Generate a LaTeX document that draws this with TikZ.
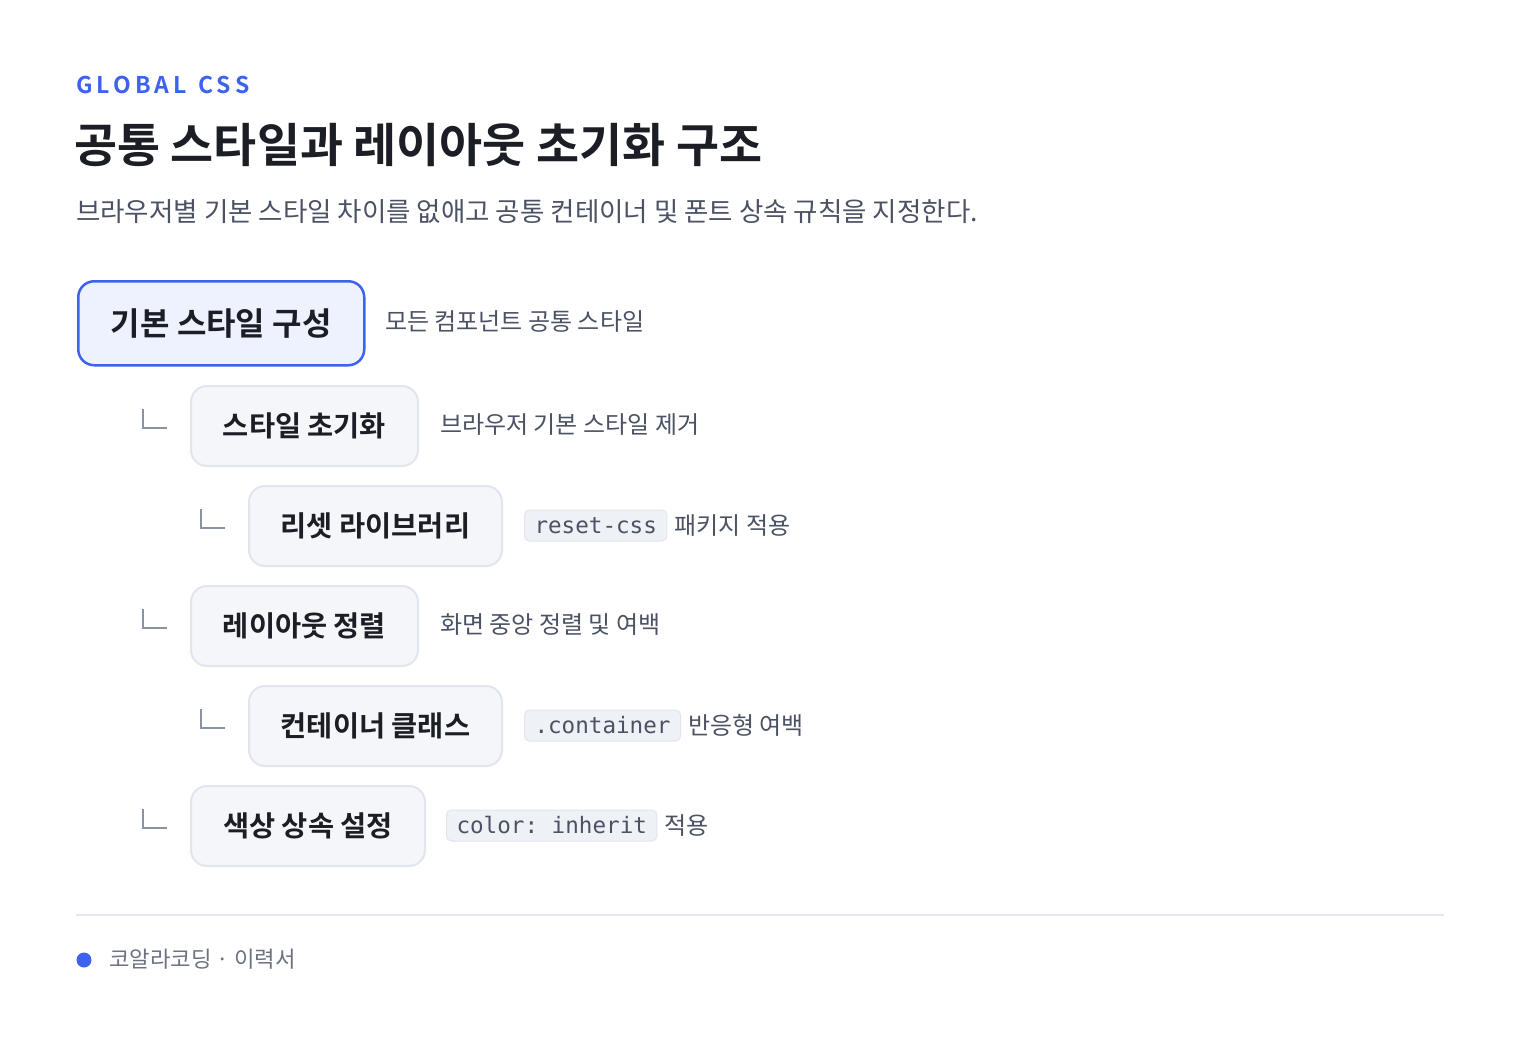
\documentclass[tikz,border=0pt]{standalone}
\usepackage{fontspec}
\setmainfont{Noto Sans CJK KR}[BoldFont={Noto Sans CJK KR Bold}]
\newfontfamily\krmed{Noto Sans CJK KR Medium}
\setmonofont{DejaVu Sans Mono}
\definecolor{accent}{HTML}{3D63EE}
\definecolor{ink}{HTML}{1B1E25}
\definecolor{sub}{HTML}{4B5263}
\definecolor{muted}{HTML}{6B7280}
\definecolor{rootfill}{HTML}{EEF2FE}
\definecolor{nodefill}{HTML}{F4F6FA}
\definecolor{nodeline}{HTML}{E0E5EE}
\definecolor{pillfill}{HTML}{EEF1F6}
\definecolor{pillline}{HTML}{E1E6EE}
\definecolor{tick}{HTML}{8A92A5}
\definecolor{rule}{HTML}{E3E8F0}
\begin{document}
\begin{tikzpicture}[x=1pt,y=-1pt,
  rootbox/.style={draw=accent, line width=2.5pt, fill=rootfill, rounded corners=16pt, anchor=north west, inner sep=0pt, text=ink, font=\fontsize{32}{38}\selectfont\bfseries},
  childbox/.style={draw=nodeline, line width=2pt, fill=nodefill, rounded corners=16pt, anchor=north west, inner sep=0pt, minimum height=80pt, text=ink, font=\fontsize{28.4}{34}\selectfont\bfseries},
  desc/.style={anchor=west, inner sep=0pt, text=sub, font=\fontsize{24}{30}\selectfont},
  pill/.style={anchor=west, draw=pillline, line width=1pt, fill=pillfill, rounded corners=5pt, inner xsep=10pt, inner ysep=0pt, minimum height=31pt, text=sub, font=\fontsize{22.6}{28}\selectfont\ttfamily},
  tickmark/.style={draw=tick, line width=2pt},
]
\useasboundingbox[fill=white] (0,0) rectangle (1520,1051);

% header
\node[anchor=west, inner sep=0pt, text=accent, font=\fontsize{23}{28}\selectfont\bfseries] (kicker) at (76,85) {G\,L\,O\,B\,A\,L\,\,\,C\,S\,S};
\node[anchor=west, inner sep=0pt, text=ink, font=\fontsize{46.8}{54}\selectfont\bfseries] (title) at (74,145) {공통 스타일과 레이아웃 초기화 구조};
\node[anchor=west, inner sep=0pt, text=sub, font=\fontsize{26.5}{32}\selectfont] (subtitle) at (76,212) {브라우저별 기본 스타일 차이를 없애고 공통 컨테이너 및 폰트 상속 규칙을 지정한다.};

% tree nodes
\node[rootbox, minimum width=286pt, minimum height=84pt] (root) at (77,280) {기본 스타일 구성};
\node[desc] (rootd) at (385,322) {모든 컴포넌트 공통 스타일};

\node[childbox, minimum width=227pt] (c1) at (190,385) {스타일 초기화};
\node[desc] (c1d) at (440,425) {브라우저 기본 스타일 제거};

\node[childbox, minimum width=253pt] (c11) at (248,485) {리셋 라이브러리};
\node[pill] (c11p) at (524,525.5) {reset-css};
\node[desc, anchor=west] (c11d) at ([xshift=7pt]c11p.east) {패키지 적용};

\node[childbox, minimum width=227pt] (c2) at (190,585) {레이아웃 정렬};
\node[desc] (c2d) at (440,625) {화면 중앙 정렬 및 여백};

\node[childbox, minimum width=253pt] (c21) at (248,685) {컨테이너 클래스};
\node[pill] (c21p) at (524,725.5) {.container};
\node[desc, anchor=west] (c21d) at ([xshift=7pt]c21p.east) {반응형 여백};

\node[childbox, minimum width=234pt] (c3) at (190,785) {색상 상속 설정};
\node[pill] (c3p) at (446,825.5) {color: inherit};
\node[desc, anchor=west] (c3d) at ([xshift=7pt]c3p.east) {적용};

% tree ticks
\foreach \n in {c1,c11,c2,c21,c3}{
  \draw[tickmark] ([xshift=-47pt,yshift=17pt]\n.west) |- ([xshift=-23pt,yshift=-2pt]\n.west);
}

% footer
\draw[draw=rule, line width=2pt] (76,915) coordinate (ruleL) -- (1444,915) coordinate (ruleR);
\fill[accent] (84,960) circle (7.5pt);
\node[anchor=west, inner sep=0pt, text=muted, font=\fontsize{22.3}{28}\selectfont] (footer) at (109,959) {코알라코딩 · 이력서};
\end{tikzpicture}
\end{document}
